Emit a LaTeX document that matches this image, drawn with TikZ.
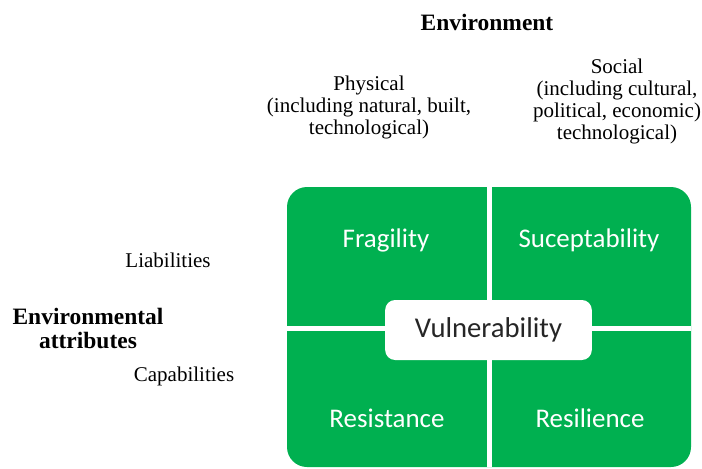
\documentclass[tikz,border=0pt]{standalone}
\usepackage{fontspec}
\setmainfont{Liberation Serif}
\newfontfamily\calibri{Carlito}
\definecolor{quadgreen}{HTML}{00B050}
\definecolor{coretext}{HTML}{262626}

\begin{document}
\begin{tikzpicture}[x=0.75pt,y=-0.75pt,
  lbl/.style={inner sep=0,align=center,font=\fontsize{15.75}{16.5}\selectfont},
  hdr/.style={inner sep=0,align=center,font=\bfseries\fontsize{17.6}{18}\selectfont},
  quad/.style={inner sep=0,anchor=base,text=white,font=\calibri\fontsize{20.2}{22}\selectfont},
  core/.style={fill=white,rounded corners=7.5pt,minimum width=155pt,minimum height=45pt,inner sep=0,text=coretext,font=\calibri\fontsize{21.5}{24}\selectfont}]
\useasboundingbox (0,0) rectangle (702,468);
% green matrix split by a white cross
\fill[quadgreen,rounded corners=15pt] (287,187) rectangle (691,467);
\fill[white] (487,187) rectangle (492,467);
\fill[white] (287,326) rectangle (691,331);
\node[quad] (frag) at (386,247) {Fragility};
\node[quad] (susc) at (589,247) {Suceptability};
\node[quad] (resist) at (387,427) {Resistance};
\node[quad] (resil) at (590,427) {Resilience};
\node[core] (vuln) at (488.5,330) {Vulnerability};
% axis labels
\node[hdr] (env) at (487,22) {Environment};
\node[lbl] (phys) at (369,107) {Physical\\(including natural, built,\\technological)};
\node[lbl] (soc) at (617,101) {Social\\(including cultural,\\political, economic)\\technological)};
\node[hdr] (attr) at (88,328) {Environmental\\attributes};
\node[lbl] (liab) at (168,260) {Liabilities};
\node[lbl] (capab) at (184,376) {Capabilities};
\end{tikzpicture}
\end{document}
